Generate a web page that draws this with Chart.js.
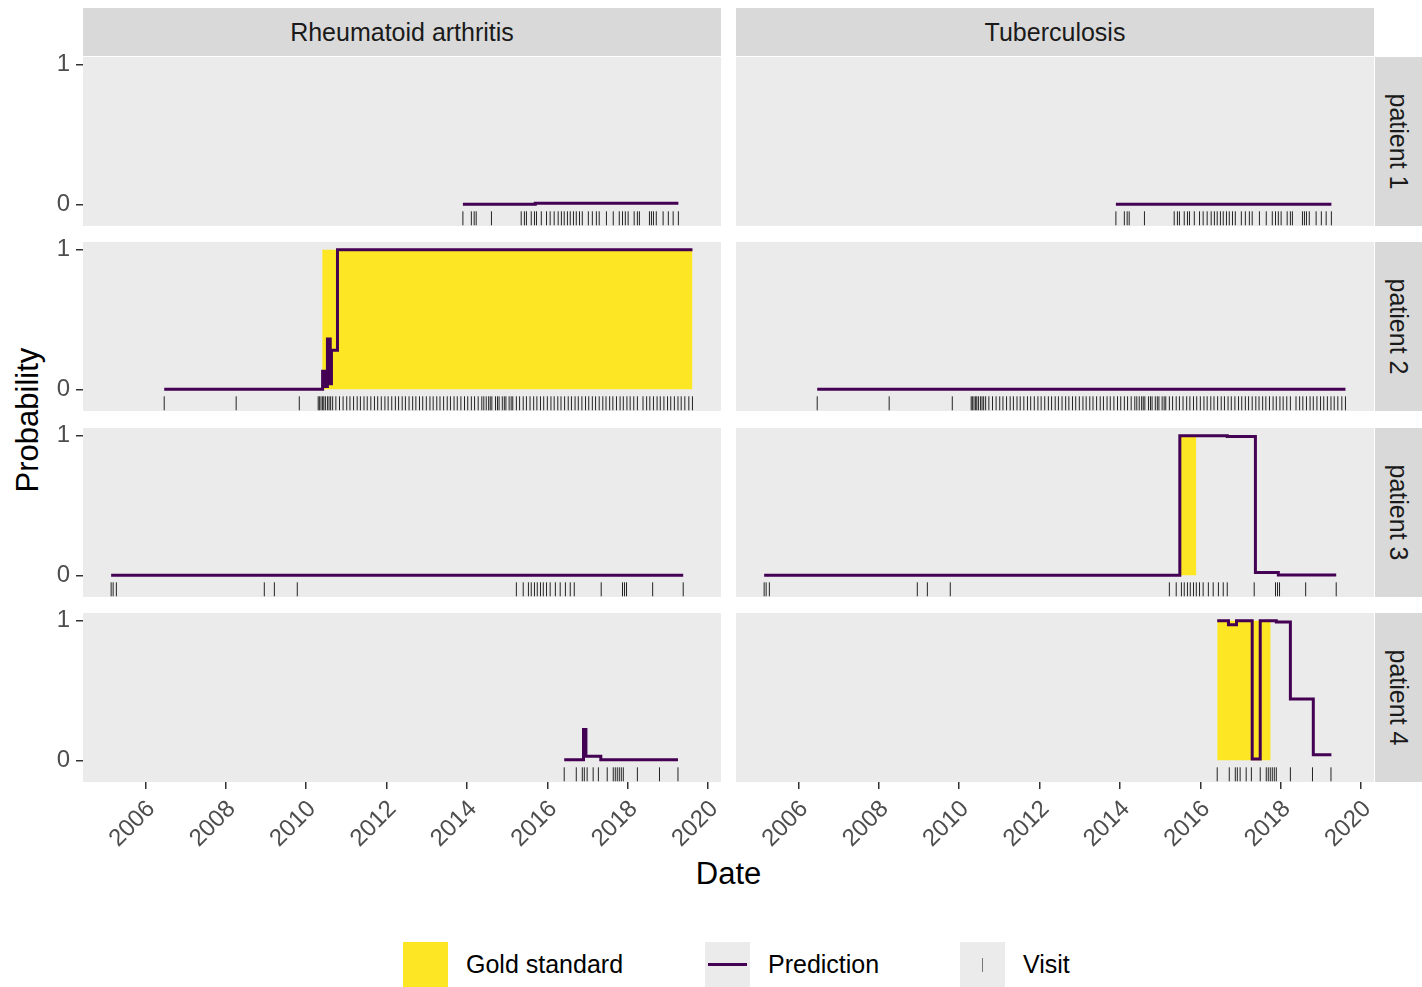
<!DOCTYPE html>
<html>
<head>
<meta charset="utf-8">
<script src="https://cdn.jsdelivr.net/npm/chart.js@4.4.0/dist/chart.umd.min.js"></script>
<style>
  body { margin: 0; background: #fff; font-family: "Liberation Sans", Arial, sans-serif; }
  #wrap { position: relative; width: 1422px; height: 987px; overflow: hidden; }
  #wrap canvas { position: absolute; }
  .strip { position: absolute; background: #d9d9d9; color: #1a1a1a; font-size: 25px;
           display: flex; align-items: center; justify-content: center; }
  .vtext { transform: rotate(90deg); white-space: nowrap; display: inline-block; }
  .title { position: absolute; color: #000; font-size: 31px; white-space: nowrap; }
  .key { position: absolute; top: 942px; width: 45px; height: 45px; background: #ebebeb; }
  .ltext { position: absolute; top: 950px; font-size: 25px; color: #000; white-space: nowrap; }
</style>
</head>
<body>
<div id="wrap">
  <div class="title" style="left:0;top:0;width:56px;height:987px;">
    <span style="position:absolute;left:28px;top:420px;transform:translate(-50%,-50%) rotate(-90deg);">Probability</span>
  </div>
  <div class="title" style="left:83px;width:1291px;top:856px;text-align:center;">Date</div>

  <div class="key" style="left:403px;background:#fde725;"></div>
  <div class="ltext" style="left:466px;">Gold standard</div>
  <div class="key" style="left:705px;"><div style="position:absolute;left:3px;right:3px;top:21px;height:3px;background:#440154;"></div></div>
  <div class="ltext" style="left:768px;">Prediction</div>
  <div class="key" style="left:960px;"><div style="position:absolute;left:22px;top:16px;width:1px;height:14px;background:#777;"></div></div>
  <div class="ltext" style="left:1023px;">Visit</div>
</div>
<script>
// facet labels and axis ticks
const diseases = ['Rheumatoid arthritis', 'Tuberculosis']
const patients = ['patient 1', 'patient 2', 'patient 3', 'patient 4']
const yearTicks = [2006, 2008, 2010, 2012, 2014, 2016, 2018, 2020]
const probTicks = [0, 1]

// visit dates (decimal years), one list per patient
const visitsP1 = [2013.90, 2014.11, 2014.18, 2014.23, 2014.61, 2015.35, 2015.43, 2015.48, 2015.60, 2015.68,
    2015.73, 2015.85, 2015.98, 2016.07, 2016.17, 2016.27, 2016.35, 2016.42, 2016.50, 2016.57, 2016.65,
    2016.72, 2016.80, 2016.87, 2017.02, 2017.12, 2017.22, 2017.29, 2017.47, 2017.64, 2017.79, 2017.87,
    2017.94, 2018.01, 2018.16, 2018.24, 2018.29, 2018.54, 2018.59, 2018.64, 2018.71, 2018.88, 2019.01,
    2019.13, 2019.26]
const visitsP2 = [2006.47, 2008.26, 2009.83, 2010.30, 2010.33, 2010.37, 2010.41, 2010.44, 2010.48, 2010.53,
    2010.57, 2010.61, 2010.66, 2010.74, 2010.83, 2010.92, 2011.01, 2011.09, 2011.18, 2011.27, 2011.35,
    2011.44, 2011.52, 2011.61, 2011.70, 2011.78, 2011.87, 2011.96, 2012.04, 2012.13, 2012.22, 2012.30,
    2012.39, 2012.47, 2012.56, 2012.65, 2012.73, 2012.82, 2012.90, 2012.99, 2013.08, 2013.16, 2013.25,
    2013.33, 2013.42, 2013.51, 2013.59, 2013.68, 2013.76, 2013.85, 2013.94, 2014.02, 2014.11, 2014.19,
    2014.28, 2014.37, 2014.42, 2014.48, 2014.54, 2014.58, 2014.62, 2014.71, 2014.76, 2014.80, 2014.88,
    2014.93, 2014.97, 2015.05, 2015.10, 2015.14, 2015.23, 2015.31, 2015.40, 2015.48, 2015.57, 2015.66,
    2015.74, 2015.83, 2015.91, 2016.00, 2016.09, 2016.17, 2016.26, 2016.34, 2016.43, 2016.52, 2016.60,
    2016.69, 2016.77, 2016.86, 2016.95, 2017.03, 2017.12, 2017.20, 2017.29, 2017.38, 2017.46, 2017.55,
    2017.63, 2017.72, 2017.81, 2017.89, 2017.98, 2018.06, 2018.15, 2018.24, 2018.38, 2018.47, 2018.55,
    2018.64, 2018.73, 2018.81, 2018.90, 2018.99, 2019.07, 2019.16, 2019.25, 2019.33, 2019.42, 2019.52,
    2019.61]
const visitsP3 = [2005.15, 2005.20, 2005.28, 2008.96, 2009.21, 2009.78, 2015.23, 2015.40, 2015.53, 2015.60,
    2015.68, 2015.75, 2015.83, 2015.90, 2015.98, 2016.07, 2016.20, 2016.32, 2016.45, 2016.57, 2016.67,
    2017.34, 2017.87, 2017.92, 2017.97, 2018.62, 2019.38]
const visitsP4 = [2016.42, 2016.72, 2016.87, 2016.92, 2016.99, 2017.14, 2017.27, 2017.49, 2017.64, 2017.69,
    2017.74, 2017.79, 2017.84, 2017.89, 2018.24, 2018.79, 2019.25]

// predicted probability, [date, value] held until the next date
const predRaP1 = [[2013.90, 0.0], [2015.70, 0.008], [2019.26, 0.008]]
const predTbP1 = [[2013.90, 0.0], [2019.26, 0.0]]
const predRaP2 = [[2006.47, 0.0], [2010.41, 0.13], [2010.46, 0.02], [2010.53, 0.36], [2010.60, 0.04],
    [2010.63, 0.28], [2010.78, 1.0], [2019.61, 1.0]]
const predTbP2 = [[2006.47, 0.0], [2019.61, 0.0]]
const predRaP3 = [[2005.15, 0.0], [2019.38, 0.0]]
const predTbP3 = [[2005.15, 0.0], [2015.49, 1.0], [2016.67, 0.995], [2017.37, 0.02], [2017.94, 0.003],
    [2019.38, 0.003]]
const predRaP4 = [[2016.42, 0.005], [2016.90, 0.22], [2016.96, 0.03], [2017.33, 0.005], [2019.25, 0.005]]
const predTbP4 = [[2016.42, 1.0], [2016.70, 0.97], [2016.90, 1.0], [2017.29, 0.01], [2017.49, 1.0],
    [2017.89, 0.99], [2018.24, 0.44], [2018.81, 0.04], [2019.26, 0.04]]

// gold standard periods [start, end]
const goldRaP2 = [2010.40, 2019.61]
const goldTbP3 = [2015.50, 2015.90]
const goldTbP4 = [2016.42, 2017.75]

const visitLevel = -0.1

const panels = [
    { col: 0, row: 0, pred: predRaP1, gold: null, visits: visitsP1 },
    { col: 1, row: 0, pred: predTbP1, gold: null, visits: visitsP1 },
    { col: 0, row: 1, pred: predRaP2, gold: goldRaP2, visits: visitsP2 },
    { col: 1, row: 1, pred: predTbP2, gold: null, visits: visitsP2 },
    { col: 0, row: 2, pred: predRaP3, gold: null, visits: visitsP3 },
    { col: 1, row: 2, pred: predTbP3, gold: goldTbP3, visits: visitsP3 },
    { col: 0, row: 3, pred: predRaP4, gold: null, visits: visitsP4 },
    { col: 1, row: 3, pred: predTbP4, gold: goldTbP4, visits: visitsP4 },
]

//layout of the facet grid
const FONT = '"Liberation Sans", Arial, sans-serif'
Chart.defaults.font.family = FONT
const panelLeft = [83, 736]
const panelTop = [57, 242, 428, 613]
const panelW = 638, panelH = 169
const yAxisW = 83, xAxisH = 80
const topPad = 12   // room above the panel for the "1" tick label
const xMin = 2004.45, xMax = 2020.32
const yMin = -0.155, yMax = 1.055

const panelBg = {
    id: 'panelBg',
    beforeDraw: (chart) => {
        const { ctx, chartArea } = chart
        ctx.save()
        ctx.fillStyle = '#ebebeb'
        ctx.fillRect(chartArea.left, chartArea.top, chartArea.width, chartArea.height)
        ctx.restore()
    }
}

const wrap = document.getElementById('wrap')

diseases.forEach((d, c) => {
    let s = document.createElement('div')
    s.className = 'strip'
    s.style.cssText = `left:${panelLeft[c]}px;top:8px;width:${panelW}px;height:48px;`
    s.textContent = d
    wrap.appendChild(s)
})
patients.forEach((p, r) => {
    let s = document.createElement('div')
    s.className = 'strip'
    s.style.cssText = `left:1375px;top:${panelTop[r]}px;width:47px;height:${panelH}px;`
    let span = document.createElement('span')
    span.className = 'vtext'
    span.textContent = p
    s.appendChild(span)
    wrap.appendChild(s)
})

function makePanel(panel) {
    const showY = panel.col === 0
    const showX = panel.row === 3
    const canvas = document.createElement('canvas')
    const w = showY ? yAxisW + panelW : panelW
    const h = topPad + panelH + (showX ? xAxisH : 0)
    canvas.width = w
    canvas.height = h
    canvas.style.width = w + 'px'
    canvas.style.height = h + 'px'
    canvas.style.left = (showY ? panelLeft[0] - yAxisW : panelLeft[panel.col]) + 'px'
    canvas.style.top = (panelTop[panel.row] - topPad) + 'px'
    wrap.appendChild(canvas)

    // first dataset is painted last, so the prediction goes on top
    let datasets = []
    datasets.push({
        label: 'Prediction',
        type: 'line',
        data: panel.pred.map(p => ({ x: p[0], y: p[1] })),
        stepped: 'before',
        fill: false,
        borderColor: '#440154',
        borderWidth: 3,
        pointRadius: 0
    })
    datasets.push({
        label: 'Visit',
        type: 'scatter',
        data: panel.visits.map(x => ({ x: x, y: visitLevel })),
        pointStyle: 'line',
        pointRotation: 90,
        pointRadius: 7,
        pointBorderWidth: 1,
        pointBorderColor: 'rgba(0,0,0,0.85)'
    })
    if (panel.gold) {
        datasets.push({
            label: 'Gold standard',
            type: 'line',
            data: panel.gold.map(x => ({ x: x, y: 1 })),
            fill: 'origin',
            backgroundColor: '#fde725',
            borderColor: 'rgba(0,0,0,0)',
            borderWidth: 0,
            pointRadius: 0
        })
    }

    new Chart(canvas, {
        type: 'line',
        data: { datasets: datasets },
        options: {
            responsive: false,
            animation: false,
            events: [],
            layout: { padding: { top: topPad, left: 0, right: 0, bottom: 0 }, autoPadding: false },
            plugins: { legend: { display: false }, tooltip: { enabled: false } },
            scales: {
                x: {
                    type: 'linear',
                    min: xMin,
                    max: xMax,
                    display: showX,
                    afterBuildTicks: (scale) => { scale.ticks = yearTicks.map(v => ({ value: v })) },
                    afterFit: (scale) => {
                        if (!showX) return
                        scale.height = xAxisH
                        scale.paddingLeft = 0
                        scale.paddingRight = 0
                    },
                    border: { display: false },
                    grid: { drawOnChartArea: false, drawTicks: true, tickLength: 7, color: '#333333', lineWidth: 1.5 },
                    ticks: {
                        autoSkip: false,
                        minRotation: 45,
                        maxRotation: 45,
                        padding: 6,
                        labelOffset: 6,
                        color: '#4d4d4d',
                        font: { size: 24, family: FONT },
                        callback: (v) => String(v)
                    }
                },
                y: {
                    type: 'linear',
                    min: yMin,
                    max: yMax,
                    display: showY,
                    afterBuildTicks: (scale) => { scale.ticks = probTicks.map(v => ({ value: v })) },
                    afterFit: (scale) => {
                        if (!showY) return
                        scale.width = yAxisW
                        scale.paddingTop = 0
                        scale.paddingBottom = 0
                    },
                    border: { display: false },
                    grid: { drawOnChartArea: false, drawTicks: true, tickLength: 7, color: '#333333', lineWidth: 1.5 },
                    ticks: {
                        padding: 6,
                        color: '#4d4d4d',
                        font: { size: 24, family: FONT },
                        callback: (v) => String(v)
                    }
                }
            }
        },
        plugins: [panelBg]
    })
}

panels.forEach(makePanel)
</script>
</body>
</html>
